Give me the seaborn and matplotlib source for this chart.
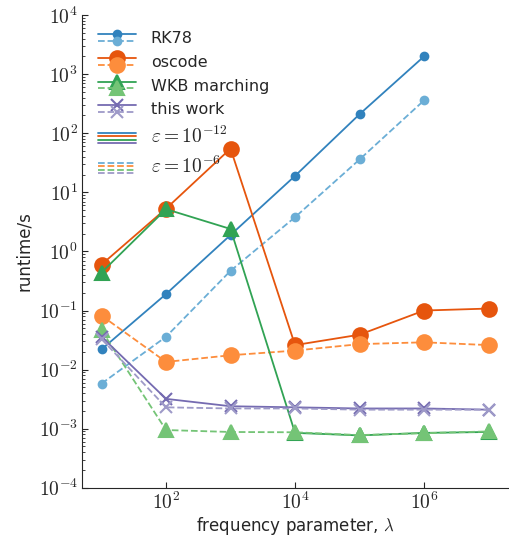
import numpy as np
import pandas as pd
import seaborn as sns
import matplotlib
matplotlib.use("Agg")
from matplotlib import pyplot as plt
from matplotlib.lines import Line2D
from matplotlib.legend_handler import HandlerBase
from matplotlib.ticker import FuncFormatter, NullFormatter, NullLocator, LogLocator

sns.set_style("ticks")
plt.rcParams['font.family'] = ['DejaVu Sans']
plt.rcParams['mathtext.fontset'] = 'cm'

# frequency parameter values
lam = [1e1, 1e2, 1e3, 1e4, 1e5, 1e6, 1e7]

# runtimes (s), eps = 1e-12 (solid) and eps = 1e-6 (dashed)
rk78_tight = [0.022, 0.19, 1.9, 19, 210, 2000]
rk78_loose = [0.0058, 0.036, 0.47, 3.8, 36, 360]
oscode_tight = [0.6, 5.3, 55, 0.026, 0.039, 0.1, 0.108]
oscode_loose = [0.082, 0.0135, 0.0175, 0.021, 0.027, 0.029, 0.026]
wkb_tight = [0.44, 5.2, 2.4, 0.00085, 0.00077, 0.00085, 0.00088]
wkb_loose = [0.046, 0.00095, 0.00088, 0.00087, 0.00078, 0.00084, 0.0009]
this_tight = [0.036, 0.0032, 0.0024, 0.0023, 0.0022, 0.0022, 0.0021]
this_loose = [0.033, 0.0023, 0.0022, 0.0022, 0.0021, 0.0021, 0.0021]

pal = sns.color_palette("tab20c")
methods = [
    ("RK78", rk78_tight, rk78_loose, "o", 5.5, pal[0], pal[1]),
    ("oscode", oscode_tight, oscode_loose, "o", 10.5, pal[4], pal[5]),
    ("WKB marching", wkb_tight, wkb_loose, "^", 10.5, pal[8], pal[9]),
    ("this work", this_tight, this_loose, "x", 9, pal[12], pal[13]),
]


class StackHandler(HandlerBase):
    # draws a list of line specs stacked vertically in one legend entry
    def create_artists(self, legend, orig_handle, xdescent, ydescent,
                       width, height, fontsize, trans):
        specs, gap = orig_handle
        n = len(specs)
        mid = height / 2 - ydescent
        out = []
        for i, s in enumerate(specs):
            y = mid + gap * ((n - 1) / 2 - i)
            ln = Line2D([-xdescent, width - xdescent], [y, y], color=s['color'],
                        ls=s['ls'], lw=1.3)
            ln.set_transform(trans)
            out.append(ln)
            if s.get('marker'):
                mk = Line2D([width / 2 - xdescent], [y], marker=s['marker'],
                            color=s['color'], ms=s['ms'], mew=1.5, ls='')
                mk.set_transform(trans)
                out.append(mk)
        return out


fig = plt.figure(figsize=(5.1, 5.39), dpi=100)
ax = fig.add_axes([0.161, 0.095, 0.835, 0.877])

handles, labels = [], []
for name, tight, loose, mk, ms, c1, c2 in methods:
    df1 = pd.DataFrame({"lam": lam[:len(tight)], "t": tight})
    df2 = pd.DataFrame({"lam": lam[:len(loose)], "t": loose})
    sns.lineplot(data=df1, x="lam", y="t", ax=ax, color=c1, marker=mk, ms=ms,
                 mec=c1, mew=1.5, lw=1.3, linestyle='-')
    sns.lineplot(data=df2, x="lam", y="t", ax=ax, color=c2, marker=mk, ms=ms,
                 mec=c2, mew=1.5, lw=1.3, linestyle='--')
    handles.append(([dict(color=c1, ls='-', marker=mk, ms=ms),
                     dict(color=c2, ls='--', marker=mk, ms=ms)], 4.8))
    labels.append(name)

handles.append(([dict(color=m[5], ls='-') for m in methods], 2.4))
labels.append(r'$\varepsilon = 10^{-12}$')
handles.append(([dict(color=m[6], ls='--') for m in methods], 2.4))
labels.append(r'$\varepsilon = 10^{-6}$')

pow10 = FuncFormatter(lambda v, pos: r'$10^{%d}$' % int(round(np.log10(v))))

ax.set_xscale('log')
ax.set_yscale('log')
ax.set_xlim(5, 2e7)
ax.set_ylim(1e-4, 1e4)
ax.set_xticks([1e2, 1e4, 1e6])
ax.xaxis.set_minor_locator(NullLocator())
ax.set_yticks([10.0 ** k for k in range(-4, 5)])
ax.yaxis.set_minor_locator(LogLocator(base=10, subs=np.arange(2, 10), numticks=20))
ax.yaxis.set_minor_formatter(NullFormatter())
ax.xaxis.set_major_formatter(pow10)
ax.yaxis.set_major_formatter(pow10)
ax.tick_params(axis='both', which='both', direction='in', labelsize=14)
ax.tick_params(axis='both', which='major', length=4, pad=3)
ax.tick_params(axis='both', which='minor', length=2)
sns.despine(ax=ax)

ax.set_xlabel(r'frequency parameter, $\lambda$', fontsize=12, labelpad=1)
ax.set_ylabel('runtime/s', fontsize=12)

leg = ax.legend(handles, labels, handler_map={tuple: StackHandler()}, loc='upper left',
                frameon=False, fontsize=11.5, handlelength=2.4, labelspacing=0.55,
                borderaxespad=0.6, handletextpad=0.9)
for t in leg.get_texts()[4:]:
    t.set_fontsize(14)

fig.savefig("out.png", dpi=100)
